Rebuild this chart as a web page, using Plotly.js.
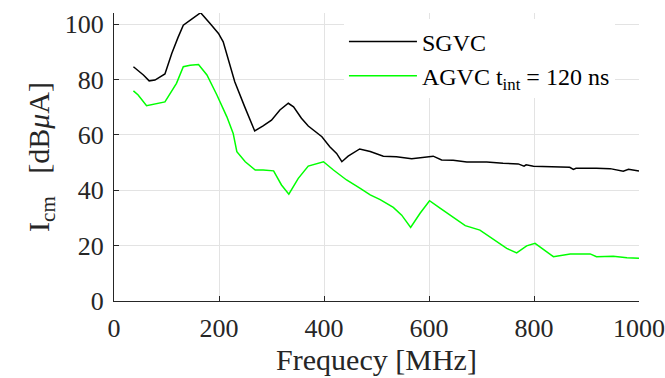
<!DOCTYPE html>
<html>
<head>
<meta charset="utf-8">
<script src="https://cdn.plot.ly/plotly-3.0.1.min.js"></script>
<style>html,body{margin:0;padding:0;background:#fff;}#chart{width:665px;height:378px;}</style>
</head>
<body>
<div id="chart"></div>
<script>
const sgvcFreq = [37,56,67,78,97,110,122,132,148,165,183,199,208,230,249,268,284,300,316,332,342,357,370,396,411,424,434,446,468,488,513,538,567,589,608,624,646,672,710,741,770,781,785,799,837,868,875,880,919,945,970,980,1000];
const sgvcVals = [84.6,81.6,79.5,79.8,82,89.4,95.2,99.6,101.8,104.1,100.2,96.6,93.6,79.2,70.1,61.4,63.2,65.3,69,71.4,70.1,66,63.2,59.3,55.7,53.3,50.3,52.3,54.9,54.0,52.3,52.1,51.4,51.9,52.3,50.9,50.8,50.2,50.2,49.7,49.5,48.7,49.2,48.7,48.6,48.3,47.5,47.9,47.9,47.8,46.9,47.6,46.9];
const agvcFreq = [37,46,62,78,97,119,132,145,161,177,196,215,227,234,250,269,284,304,319,333,351,370,386,399,418,443,469,488,507,532,548,565,583,601,621,640,669,697,726,748,767,786,802,818,837,869,907,919,951,977,1000];
const agvcVals = [75.9,74.4,70.5,71.1,71.9,78.6,84.6,85.1,85.4,81.6,74.4,66.5,60.5,53.9,50.3,47.3,47.3,47,41.9,38.6,44.3,48.7,49.7,50.3,47.3,43.7,40.7,38.3,36.6,33.8,31,26.6,31.7,36.2,33.5,31,27.2,25.6,21.8,19,17.4,19.9,20.8,18.7,16,17,17,16,16.2,15.6,15.4];
const seriesNames = ["SGVC", "AGVC t<sub>int</sub> = 120 ns"];
const xTicks = [0,200,400,600,800,1000];
const yTicks = [0,20,40,60,80,100];

const txt = '#262626';
const font = '"Liberation Serif", serif';
const traces = [
  {x: sgvcFreq, y: sgvcVals, name: seriesNames[0], type: 'scatter', mode: 'lines', line: {color: '#000000', width: 1.5}},
  {x: agvcFreq, y: agvcVals, name: seriesNames[1], type: 'scatter', mode: 'lines', line: {color: '#00ff00', width: 1.5}}
];
function axis(extra) {
  return Object.assign({
    showgrid: true, gridcolor: '#e3e3e3', gridwidth: 1,
    showline: true, linecolor: '#262626', linewidth: 1,
    ticks: 'inside', ticklen: 5, tickcolor: '#262626',
    zeroline: false, mirror: false,
    tickfont: {family: font, size: 26, color: txt}
  }, extra);
}
const layout = {
  width: 665, height: 378,
  margin: {l: 114, r: 26, t: 13, b: 77},
  paper_bgcolor: '#fff', plot_bgcolor: '#fff',
  font: {family: font, color: txt, size: 26},
  showlegend: true,
  legend: {x: 0.438, y: 0.978, xanchor: 'left', yanchor: 'top', bgcolor: '#fff', borderwidth: 0,
           itemwidth: 68,
           font: {family: font, size: 24, color: '#000'}, tracegroupgap: 0},
  xaxis: axis({range: [0, 1000], tickvals: xTicks, ticktext: xTicks.map(String), ticklabelstandoff: 4,
    title: {text: 'Frequecy [MHz]', font: {family: font, size: 30, color: txt}, standoff: 2}}),
  yaxis: axis({range: [0, 104], tickvals: yTicks, ticktext: yTicks.map(String), ticklabelstandoff: 4,
    title: {text: 'I<sub>cm</sub>   [dB<i>μ</i>A]   ', font: {family: font, size: 30, color: txt}, standoff: 6}})
};
Plotly.newPlot('chart', traces, layout, {displayModeBar: false, staticPlot: true});
</script>
</body>
</html>
